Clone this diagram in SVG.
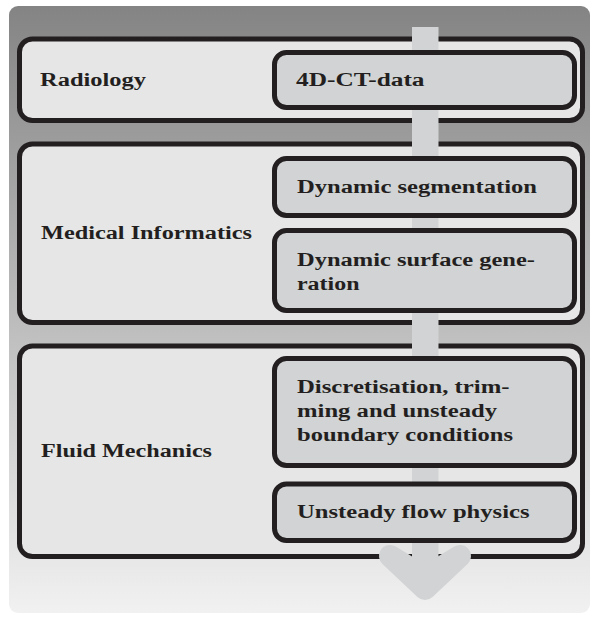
<svg xmlns="http://www.w3.org/2000/svg" width="590" height="617" viewBox="0 0 590 617">
  <defs>
    <linearGradient id="bg" x1="0" y1="0" x2="0" y2="1">
      <stop offset="0" stop-color="#848484"/>
      <stop offset="1" stop-color="#f1f1f1"/>
    </linearGradient>
  </defs>
  <style>
    .outer { fill: #e6e6e6; stroke: #231f20; stroke-width: 5; }
    .inner { fill: #d1d3d4; stroke: #231f20; stroke-width: 5; }
    .t { font-family: "Liberation Serif", "DejaVu Serif", serif; font-weight: bold; font-size: 18.5px; fill: #231f20; }
    .flow { fill: #d1d3d4; stroke: none; }
    .head { fill: #d1d3d4; stroke: #d1d3d4; stroke-width: 22; stroke-linecap: round; stroke-linejoin: round; }
  </style>
  <rect x="9" y="6" width="581" height="607" rx="9" fill="url(#bg)"/>

  <g id="radiology">
    <rect class="outer" x="19.5" y="39" width="563" height="81.5" rx="13"/>
    <text class="t" x="40" y="86" textLength="106" lengthAdjust="spacingAndGlyphs">Radiology</text>
  </g>
  <g id="medical-informatics">
    <rect class="outer" x="19.5" y="144" width="563" height="178.5" rx="13"/>
    <text class="t" x="41" y="239" textLength="211" lengthAdjust="spacingAndGlyphs">Medical Informatics</text>
  </g>
  <g id="fluid-mechanics">
    <rect class="outer" x="19.5" y="346" width="563" height="210.5" rx="13"/>
    <text class="t" x="41" y="457" textLength="171" lengthAdjust="spacingAndGlyphs">Fluid Mechanics</text>
  </g>

  <g id="connectors">
    <rect class="flow" x="412" y="27" width="26.5" height="550"/>
    <path class="head" d="M390,556 L425,589 L460,556 L442,567 L425,576 L408,567 Z"/>
  </g>

  <g id="ct-data">
    <rect class="inner" x="274.5" y="52.5" width="300" height="55" rx="12"/>
    <text class="t" x="296" y="86" textLength="128.5" lengthAdjust="spacingAndGlyphs">4D-CT-data</text>
  </g>
  <g id="dynamic-segmentation">
    <rect class="inner" x="274.5" y="158.5" width="300" height="57" rx="12"/>
    <text class="t" x="297" y="193" textLength="240" lengthAdjust="spacingAndGlyphs">Dynamic segmentation</text>
  </g>
  <g id="dynamic-surface-generation">
    <rect class="inner" x="274.5" y="230.5" width="300" height="80" rx="12"/>
    <text class="t" x="297" y="266" textLength="238" lengthAdjust="spacingAndGlyphs">Dynamic surface gene-</text>
    <text class="t" x="297" y="290" textLength="62.5" lengthAdjust="spacingAndGlyphs">ration</text>
  </g>
  <g id="discretisation">
    <rect class="inner" x="274.5" y="358.5" width="300" height="107" rx="12"/>
    <text class="t" x="297" y="393" textLength="212.5" lengthAdjust="spacingAndGlyphs">Discretisation, trim-</text>
    <text class="t" x="297" y="417" textLength="200" lengthAdjust="spacingAndGlyphs">ming and unsteady</text>
    <text class="t" x="297" y="441" textLength="216" lengthAdjust="spacingAndGlyphs">boundary conditions</text>
  </g>
  <g id="unsteady-flow-physics">
    <rect class="inner" x="274.5" y="484" width="300" height="56.5" rx="12"/>
    <text class="t" x="297" y="517.5" textLength="232.5" lengthAdjust="spacingAndGlyphs">Unsteady flow physics</text>
  </g>
</svg>
